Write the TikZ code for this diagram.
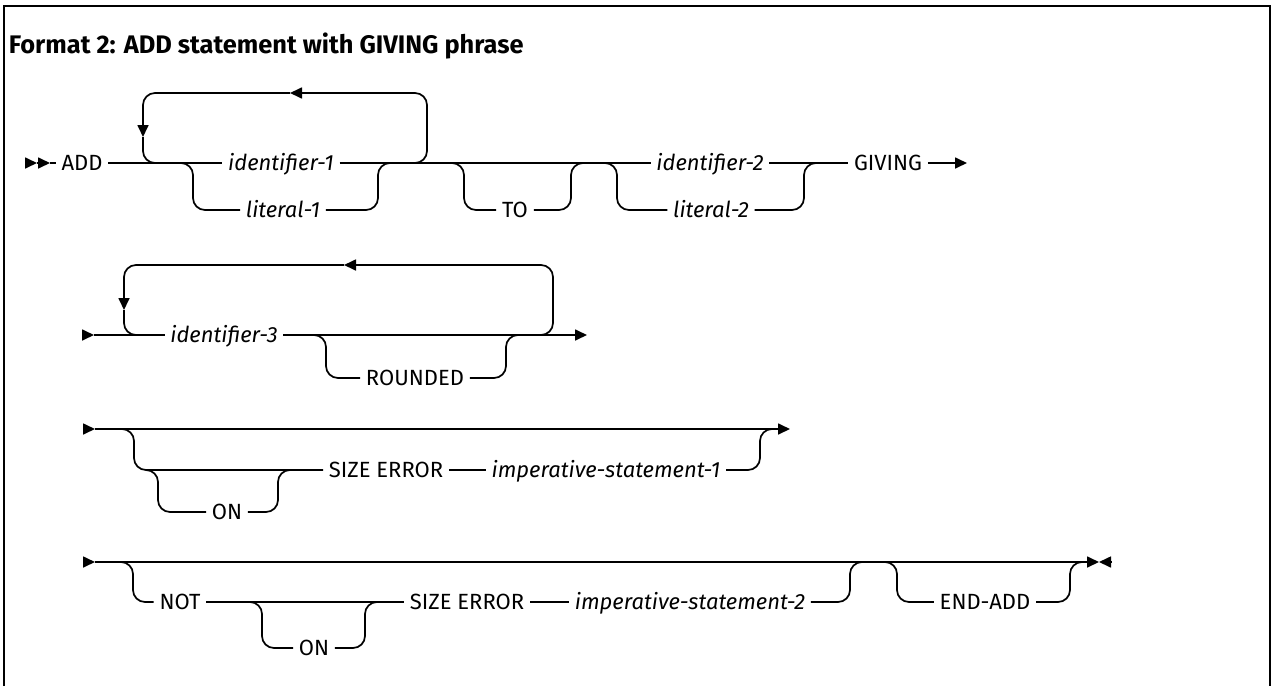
\documentclass[tikz,border=0pt]{standalone}
\usepackage{fontspec}
\setmainfont{Fira Sans}
\usetikzlibrary{arrows.meta}

\begin{document}
\begin{tikzpicture}[
    x=0.5pt, y=-0.5pt,
    line width=0.85pt,
    word/.style={inner xsep=2.5pt, inner ysep=0pt, text height=7.3pt, text depth=0pt,
                 font=\fontsize{11}{13}\selectfont},
    var/.style={word, font=\fontsize{11}{13}\selectfont\itshape},
    track/.style={rounded corners=6pt},
    tip/.style={-{Triangle[length=6pt,width=5.5pt]}},
]
\useasboundingbox (0,0) rectangle (1274,686);
\draw[line width=1pt] (4,686) -- (4,6) -- (1270,6) -- (1270,686);

\node[anchor=base west, inner sep=0pt, font=\fontsize{12.7}{15}\selectfont\bfseries] (ttl)
    at (8,53) {Format 2: ADD statement with GIVING phrase};

% first line
\coordinate (s1) at (25,163);
\coordinate (s1m) at (37,163);
\coordinate (s1e) at (50,163);
\node[word] (add) at (82,163) {ADD};
\node[var] (id1) at (281,163) {identifier-1};
\node[var] (lit1) at (283,210) {literal-1};
\node[word] (to) at (515,210) {TO};
\node[var] (id2) at (710,163) {identifier-2};
\node[var] (lit2) at (711,210) {literal-2};
\node[word] (giv) at (888,163) {GIVING};
\coordinate (e1) at (967,163);

\coordinate (l1r) at (413,163);
\coordinate (l1t) at (290,93);
\coordinate (l1d) at (143,137);
\coordinate (l1l) at (157,163);
\coordinate (b1in) at (181,163);
\coordinate (b1out) at (390,163);
\coordinate (b2in) at (452,163);
\coordinate (b2out) at (583,163);
\coordinate (b3in) at (605,163);
\coordinate (b3out) at (816,163);

\draw[tip] (s1) -- (s1m);
\draw[tip] (s1m) -- (s1e);
\draw (s1e) -- (add);
\draw (add) -- (id1);
\draw (id1) -- (id2);
\draw (id2) -- (giv);
\draw[tip] (giv) -- (e1);

\draw[track, tip] (l1r) -- ++(14,0) |- (l1t);
\draw[track, tip] (l1t) -| (l1d);
\draw[track] (l1d) |- (l1l);

\draw[track] (b1in) -- ++(12,0) |- (lit1);
\draw[track] (b1out) -- ++(-12,0) |- (lit1);
\draw[track] (b2in) -- ++(12,0) |- (to);
\draw[track] (b2out) -- ++(-12,0) |- (to);
\draw[track] (b3in) -- ++(12,0) |- (lit2);
\draw[track] (b3out) -- ++(-12,0) |- (lit2);

% second line
\coordinate (s2) at (82,335);
\coordinate (s2t) at (94,335);
\node[var] (id3) at (224,335) {identifier-3};
\node[word] (rnd) at (415,378) {ROUNDED};
\coordinate (e2) at (587,335);

\coordinate (l2r) at (539,335);
\coordinate (l2t) at (344,265);
\coordinate (l2d) at (124,310);
\coordinate (l2l) at (138,335);
\coordinate (r2in) at (314,335);
\coordinate (r2out) at (518,335);

\draw[tip] (s2) -- (s2t);
\draw (s2t) -- (id3);
\draw[tip] (id3) -- (e2);
\draw[track, tip] (l2r) -- ++(14,0) |- (l2t);
\draw[track, tip] (l2t) -| (l2d);
\draw[track] (l2d) |- (l2l);
\draw[track] (r2in) -- ++(12,0) |- (rnd);
\draw[track] (r2out) -- ++(-12,0) |- (rnd);

% third line
\coordinate (s3) at (83,429);
\coordinate (s3t) at (95,429);
\coordinate (e3) at (790,429);
\node[word] (sz1) at (386,470) {SIZE ERROR};
\node[var] (imp1) at (606,470) {imperative-statement-1};
\node[word] (on1) at (227,512) {ON};
\coordinate (x3in) at (122,429);
\coordinate (x3out) at (772,429);
\coordinate (o3in) at (146,470);
\coordinate (o3out) at (290,470);

\draw[tip] (s3) -- (s3t);
\draw[tip] (s3t) -- (e3);
\draw[track] (x3in) -- ++(12,0) |- (sz1);
\draw (sz1) -- (imp1);
\draw[track] (x3out) -- ++(-12,0) |- (imp1);
\draw[track] (o3in) -- ++(12,0) |- (on1);
\draw[track] (o3out) -- ++(-12,0) |- (on1);

% fourth line
\coordinate (s4) at (83,562);
\coordinate (s4t) at (95,562);
\coordinate (e4m) at (1099,562);
\coordinate (e4) at (1111,562);
\node[word] (nt) at (180,602) {NOT};
\node[word] (on2) at (314,648) {ON};
\node[word] (sz2) at (467,602) {SIZE ERROR};
\node[var] (imp2) at (690,602) {imperative-statement-2};
\node[word] (ea) at (985,602) {END-ADD};
\coordinate (x4in) at (121,562);
\coordinate (x4out) at (862,562);
\coordinate (o4in) at (250,602);
\coordinate (o4out) at (377,602);
\coordinate (ea4in) at (885,562);
\coordinate (ea4out) at (1082,562);

\draw[tip] (s4) -- (s4t);
\draw[tip] (s4t) -- (e4m);
\draw[tip] (e4) -- (e4m);
\draw[track] (x4in) -- ++(12,0) |- (nt);
\draw (nt) -- (sz2);
\draw (sz2) -- (imp2);
\draw[track] (x4out) -- ++(-12,0) |- (imp2);
\draw[track] (o4in) -- ++(12,0) |- (on2);
\draw[track] (o4out) -- ++(-12,0) |- (on2);
\draw[track] (ea4in) -- ++(12,0) |- (ea);
\draw[track] (ea4out) -- ++(-12,0) |- (ea);
\end{tikzpicture}
\end{document}
